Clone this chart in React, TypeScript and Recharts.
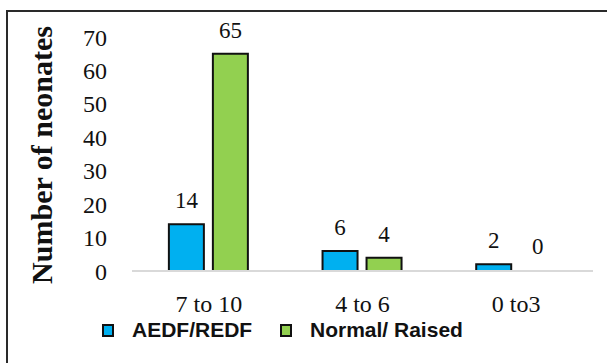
import React from 'react';
import { BarChart, Bar, XAxis, YAxis, LabelList, Cell } from 'recharts';

const categories = ['7 to 10', '4 to 6', '0 to3'];
const aedfRedf = [14, 6, 2];
const normalRaised = [65, 4, 0];
const yTicks = [0, 10, 20, 30, 40, 50, 60, 70];

const BLUE = '#00B0F0';
const GREEN = '#92D050';
const SERIF = '"Liberation Serif", "DejaVu Serif", serif';

const data = categories.map((name, i) => ({
  name,
  'AEDF/REDF': aedfRedf[i],
  'Normal/ Raised': normalRaised[i],
}));

const legendItems = [
  { label: 'AEDF/REDF', color: BLUE, left: 102 },
  { label: 'Normal/ Raised', color: GREEN, left: 280 },
];

const LegendBox = () => (
  <>
    {legendItems.map((it) => (
      <div
        key={it.label}
        style={{
          position: 'absolute',
          left: it.left,
          top: 318,
          display: 'flex',
          alignItems: 'center',
          fontFamily: '"Liberation Sans", Arial, sans-serif',
          fontWeight: 700,
          fontSize: 21,
          color: '#111',
          whiteSpace: 'nowrap',
        }}
      >
        <span style={{ width: 8, height: 9, background: it.color, border: '2px solid #111', marginRight: 18, display: 'inline-block' }} />
        <span>{it.label}</span>
      </div>
    ))}
  </>
);

const YTitle = () => (
  <text
    x={52}
    y={155}
    transform="rotate(-90, 52, 155)"
    textAnchor="middle"
    fontFamily={SERIF}
    fontWeight={700}
    fontSize={30}
    fill="#111"
  >
    Number of neonates
  </text>
);

// custom so that the 0 bar still gets its label
const valueLabel = (props: any) => {
  const { x, y, width, value } = props;
  return (
    <text x={x + width / 2} y={y - 16} textAnchor="middle" fontFamily={SERIF} fontSize={23} fill="#111">
      {value}
    </text>
  );
};

export default function App() {
  return (
    <div style={{ position: 'fixed', left: 0, top: 0, width: 607, height: 363, background: '#fff', overflow: 'hidden' }}>
      <div style={{ position: 'absolute', left: 6, top: 10, width: 620, height: 400, border: '2px solid #2a2a2a', boxSizing: 'border-box' }} />
      <BarChart
        width={607}
        height={363}
        data={data}
        margin={{ top: 37, right: 14, bottom: 62, left: 14 }}
        barCategoryGap="24%"
        barGap={9}
      >
        <XAxis
          dataKey="name"
          axisLine={{ stroke: '#D9D9D9', strokeWidth: 2 }}
          tickLine={false}
          interval={0}
          tick={{ fontFamily: SERIF, fontSize: 24, fill: '#111' }}
          tickMargin={18}
        />
        <YAxis
          domain={[0, 70]}
          ticks={yTicks}
          interval={0}
          axisLine={false}
          tickLine={false}
          width={118}
          tickSize={20}
          tickMargin={5}
          tick={{ fontFamily: SERIF, fontSize: 24, fill: '#111' }}
          label={<YTitle />}
        />
        <Bar dataKey="AEDF/REDF" fill={BLUE} stroke="#111" strokeWidth={2} isAnimationActive={false}>
          <LabelList dataKey="AEDF/REDF" content={valueLabel} />
        </Bar>
        <Bar dataKey="Normal/ Raised" fill={GREEN} stroke="#111" strokeWidth={2} minPointSize={1} isAnimationActive={false}>
          {normalRaised.map((v, i) => (
            <Cell key={i} fill={v === 0 ? 'none' : GREEN} stroke={v === 0 ? 'none' : '#111'} />
          ))}
          <LabelList dataKey="Normal/ Raised" content={valueLabel} />
        </Bar>
      </BarChart>
      <LegendBox />
    </div>
  );
}
